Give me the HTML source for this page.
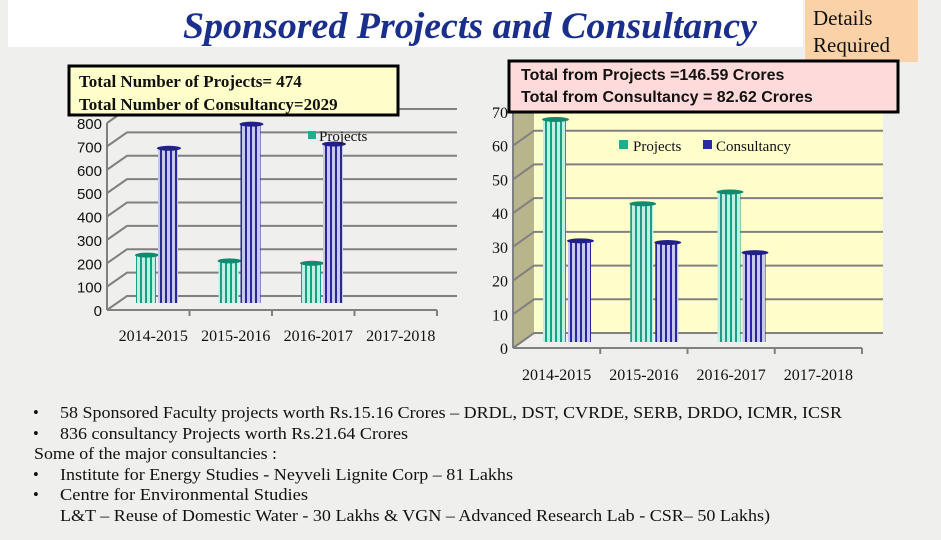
<!DOCTYPE html>
<html><head><meta charset="utf-8"><style>
html,body{margin:0;padding:0;width:941px;height:540px;overflow:hidden;background:#efefed;}
svg{display:block}
</style></head><body>
<svg id="s" width="941" height="540" xmlns="http://www.w3.org/2000/svg">
<defs>
<pattern id="pTeal" width="5" height="10" patternUnits="userSpaceOnUse"><rect width="5" height="10" fill="#bff0e4"/><rect width="2" height="10" fill="#1a9e84"/></pattern>
<pattern id="pNavy" width="5" height="10" patternUnits="userSpaceOnUse"><rect width="5" height="10" fill="#c8c8ee"/><rect width="2" height="10" fill="#28289a"/></pattern>
</defs>
<rect x="8" y="0" width="795" height="47" fill="#ffffff"/>
<text x="470" y="38" text-anchor="middle" font-family="Liberation Serif, serif" font-style="italic" font-weight="bold" font-size="37" fill="#1a2f8c" textLength="574" lengthAdjust="spacingAndGlyphs">Sponsored Projects and Consultancy</text>
<g>
<rect x="805" y="0" width="113" height="62" fill="#fbd1a7"/>
<text x="813" y="25" font-family="Liberation Serif, serif" font-size="21" fill="#111">Details</text>
<text x="813" y="52" font-family="Liberation Serif, serif" font-size="21" fill="#111">Required</text>
</g>
<g id="left"></g>
<g id="right"></g>
<g>
<rect x="69" y="66" width="329" height="49" fill="#ffffcc" stroke="#000" stroke-width="3"/>
<text x="79" y="87" font-family="Liberation Serif, serif" font-weight="bold" font-size="17" fill="#111">Total Number of Projects= 474</text>
<text x="79" y="110" font-family="Liberation Serif, serif" font-weight="bold" font-size="17" fill="#111">Total Number of Consultancy=2029</text>
</g>
<g>
<rect x="509" y="61" width="389" height="51" fill="#ffdada" stroke="#000" stroke-width="3"/>
<text x="521" y="80" font-family="Liberation Sans, sans-serif" font-weight="bold" font-size="16" fill="#111">Total from Projects =146.59 Crores</text>
<text x="521" y="102" font-family="Liberation Sans, sans-serif" font-weight="bold" font-size="16" fill="#111">Total from Consultancy = 82.62 Crores</text>
</g>
<g font-family="Liberation Serif, serif" font-size="16.5" fill="#111">
<text x="33" y="418">•</text><text x="60" y="418" textLength="782" lengthAdjust="spacingAndGlyphs">58 Sponsored Faculty projects worth Rs.15.16 Crores – DRDL, DST, CVRDE, SERB, DRDO, ICMR, ICSR</text>
<text x="33" y="439">•</text><text x="60" y="439" textLength="348" lengthAdjust="spacingAndGlyphs">836 consultancy Projects worth Rs.21.64 Crores</text>
<text x="34" y="459" textLength="243" lengthAdjust="spacingAndGlyphs">Some of the major consultancies :</text>
<text x="33" y="480">•</text><text x="60" y="480" textLength="453" lengthAdjust="spacingAndGlyphs">Institute for Energy Studies - Neyveli Lignite Corp – 81 Lakhs</text>
<text x="33" y="500">•</text><text x="60" y="500" textLength="248" lengthAdjust="spacingAndGlyphs">Centre for Environmental Studies</text>
<text x="60" y="521" textLength="710" lengthAdjust="spacingAndGlyphs">L&amp;T – Reuse of Domestic Water - 30 Lakhs &amp; VGN – Advanced Research Lab - CSR– 50 Lakhs)</text>
</g>
</svg>
<script>
const categories = ["2014-2015","2015-2016","2016-2017","2017-2018"];
const leftProjects = [205, 180, 170, null];
const leftConsultancy = [662, 765, 680, null];
const leftTicks = [0,100,200,300,400,500,600,700,800];
const rightProjects = [66, 41, 44.5, null];
const rightConsultancy = [30, 29.5, 26.5, null];
const rightTicks = [0,10,20,30,40,50,60,70];

const NS = "http://www.w3.org/2000/svg";
function mk(parent, tag, attrs){const e=document.createElementNS(NS,tag);for(const k in attrs)e.setAttribute(k,attrs[k]);parent.appendChild(e);return e;}

function drawChart(g, cfg){
  const dx=cfg.dx, dy=cfg.dy;
  const yF = v => cfg.y0 - (v/cfg.max)*(cfg.y0-cfg.yTop);
  if(cfg.wall){
    const w=mk(g,'polygon',{points:`${cfg.x0+dx},${yF(cfg.max)+dy-18} ${cfg.x1+dx},${yF(cfg.max)+dy-18} ${cfg.x1+dx},${cfg.y0+dy} ${cfg.x0+dx},${cfg.y0+dy}`,fill:cfg.wall});
    
    
    const sw=mk(g,'polygon',{points:`${cfg.x0},${yF(cfg.max)-18} ${cfg.x0+dx},${yF(cfg.max)+dy-18} ${cfg.x0+dx},${cfg.y0+dy} ${cfg.x0},${cfg.y0}`,fill:'#b8b48c'});
    
    
  }
  cfg.ticks.forEach(t=>{
    const y=yF(t);
    const gl=mk(g,'polyline',{points:`${cfg.x0},${y} ${cfg.x0+dx},${y+dy} ${cfg.x1+dx},${y+dy}`,fill:'none',stroke:'#808080','stroke-width':2});
    
    
    const tl=mk(g,'text',{x:cfg.x0-5,y:y+6,'text-anchor':'end','font-family':cfg.tickFont,'font-size':cfg.tickSize,fill:'#111'});
    tl.textContent=t;
    
    
  });
  mk(g,'line',{x1:cfg.x0,y1:yF(0),x2:cfg.x0,y2:yF(cfg.max),stroke:'#808080','stroke-width':2});
  mk(g,'line',{x1:cfg.x0,y1:cfg.y0,x2:cfg.x1,y2:cfg.y0,stroke:'#808080','stroke-width':2});
  const cw=(cfg.x1-cfg.x0)/categories.length;
  categories.forEach((c,i)=>{
    const tx=cfg.x0+cw*(i+1);
    mk(g,'line',{x1:tx,y1:cfg.y0,x2:tx,y2:cfg.y0+6,stroke:'#808080','stroke-width':2});
    const cl=mk(g,'text',{x:cfg.x0+cw*(i+0.5)+cfg.labelShift,y:cfg.labelY,'text-anchor':'middle','font-family':'Liberation Serif, serif','font-size':cfg.labelSize,fill:'#111'});
    cl.textContent=c;
    
    
  });
  const bw=cfg.bw;
  const series=[[cfg.s1,'url(#pTeal)','#128a72','bar-projects'],[cfg.s2,'url(#pNavy)','#202088','bar-consultancy']];
  series.forEach(([vals,fill,top,name],si)=>{
    if(!vals) return;
    vals.forEach((v,i)=>{
      if(v==null) return;
      const x=cfg.x0+cw*i+cfg.barOff+si*bw;
      const base=cfg.y0+cfg.baseShift, yt=yF(v)+cfg.baseShift;
      const r=mk(g,'rect',{x:x,y:yt,width:bw-2,height:base-yt,fill:fill});
      
      
      const e=mk(g,'ellipse',{cx:x+bw/2,cy:yt,rx:bw/2+1,ry:2.5,fill:top});
      
      
    });
  });
}

drawChart(document.getElementById('left'),{x0:107,x1:437,y0:310,yTop:123,max:800,dx:20,dy:-14,ticks:leftTicks,
  tickFont:'Liberation Sans, sans-serif',tickSize:15,labelY:341,labelSize:16,labelShift:5,bw:22,barOff:29,baseShift:-7,
  s1:leftProjects,s2:leftConsultancy,wall:null});
drawChart(document.getElementById('right'),{x0:513,x1:862,y0:348,yTop:112,max:70,dx:21,dy:-15,ticks:rightTicks,
  tickFont:'Liberation Serif, serif',tickSize:16,labelY:380,labelSize:16,labelShift:0,bw:25,barOff:30,baseShift:-6,
  s1:rightProjects,s2:rightConsultancy,wall:'#ffffcc'});

const L=document.getElementById('left');
const lg=mk(L,'g',{});


mk(lg,'rect',{x:308,y:131,width:8,height:8,fill:'#1ab08e'});
const lt=mk(lg,'text',{x:319,y:141,'font-family':'Liberation Serif, serif','font-size':15,fill:'#111'});lt.textContent='Projects';
const R=document.getElementById('right');
const rg=mk(R,'g',{});


mk(rg,'rect',{x:619,y:140,width:9,height:9,fill:'#1ab08e'});
const r1=mk(rg,'text',{x:633,y:151,'font-family':'Liberation Serif, serif','font-size':15,fill:'#111'});r1.textContent='Projects';
mk(rg,'rect',{x:703,y:140,width:9,height:9,fill:'#2a2aa8'});
const r2=mk(rg,'text',{x:716,y:151,'font-family':'Liberation Serif, serif','font-size':15,fill:'#111'});r2.textContent='Consultancy';
</script>
</body></html>
